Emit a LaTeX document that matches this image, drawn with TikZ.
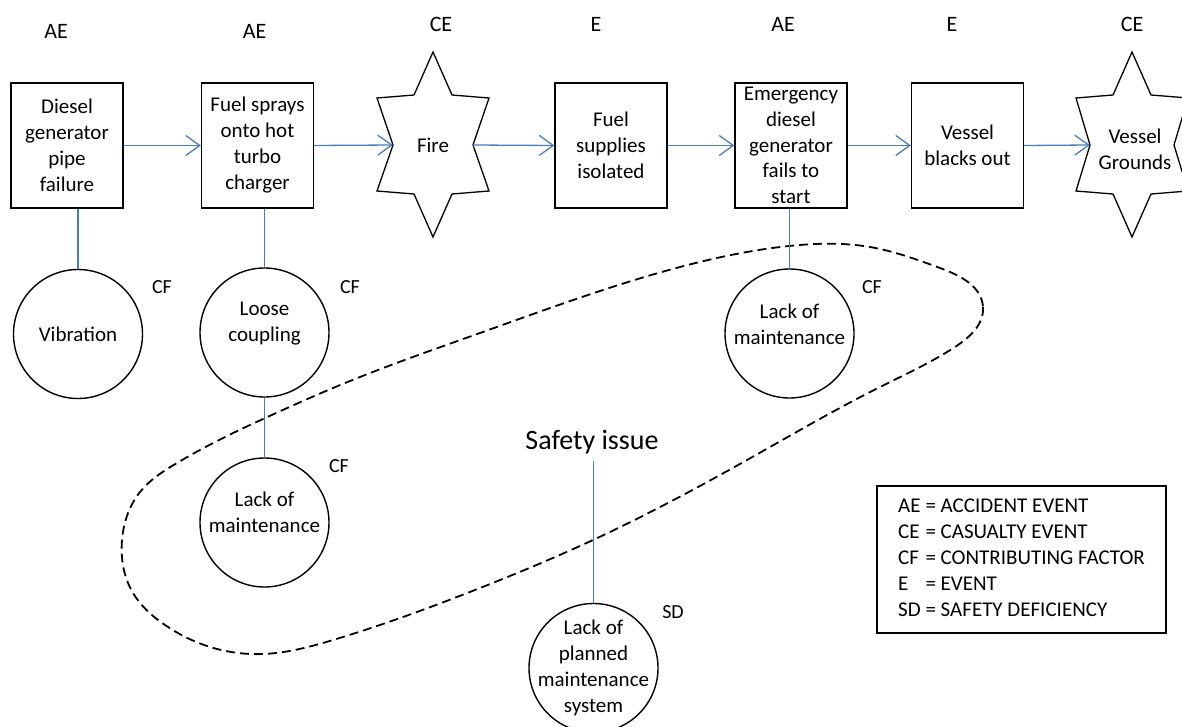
\documentclass[tikz,border=0pt]{standalone}
\usepackage{fontspec}
\setmainfont{Carlito}
\usetikzlibrary{arrows.meta,hobby}
\definecolor{lnblue}{RGB}{74,126,187}
\newcommand\drawstar[2]{%
  \draw[starline] ([shift={(0,-93)}]#1.center) -- ([shift={(-19,-50)}]#1.center)
   -- ([shift={(-56,-47)}]#1.center) -- ([shift={(-#2,0)}]#1.center)
   -- ([shift={(-56,46)}]#1.center) -- ([shift={(-19,49)}]#1.center)
   -- ([shift={(0,92)}]#1.center) -- ([shift={(19,49)}]#1.center)
   -- ([shift={(56,46)}]#1.center) -- ([shift={(#2,0)}]#1.center)
   -- ([shift={(56,-47)}]#1.center) -- ([shift={(19,-50)}]#1.center) -- cycle;}
\begin{document}
\begin{tikzpicture}[x=1pt,y=-1pt,
  every node/.style={font=\fontsize{21}{26}\selectfont},
  evbox/.style={draw, line width=1.3pt, minimum width=112pt, minimum height=125pt, align=center, inner sep=0pt},
  starnode/.style={draw=none, minimum height=185pt, inner sep=0pt, align=center},
  starline/.style={draw, line width=1.3pt, line join=miter},
  circ/.style={draw, circle, line width=1.4pt, minimum size=129pt, inner sep=0pt},
  ctext/.style={align=center, font=\fontsize{21}{26}\selectfont},
  tag/.style={font=\fontsize{20}{24}\selectfont},
  typ/.style={font=\fontsize{22}{26}\selectfont},
  arr/.style={lnblue, line width=1.3pt, -{Straight Barb[length=14pt,width=20pt,line width=1.3pt]}},
  conn/.style={lnblue, line width=1.3pt},
  loop/.style={black, line width=1.8pt, dash pattern=on 9pt off 5pt}
]
\useasboundingbox (0,0) rectangle (1182,727);

% dashed safety-issue loop
\draw[loop, use Hobby shortcut, closed=true]
  (983,307) .. (955,347) .. (880,387) .. (747,460) .. (593,540) .. (480,588)
  .. (333,640) .. (263,654) .. (207,646) .. (165,625) .. (133,593) .. (122,540)
  .. (140,492) .. (177,463) .. (223,438) .. (263,419) .. (350,381) .. (480,333)
  .. (680,267) .. (789,246) .. (870,247) .. (940,268);

% event chain
\node[evbox] (b1) at (67,145.5) {Diesel\\generator\\pipe\\failure};
\node[evbox] (b2) at (257.5,145.5) {Fuel sprays\\onto hot\\turbo\\charger};
\node[starnode, minimum width=80pt] (fire) at (433,145) {Fire};
\node[evbox] (b3) at (611,145.5) {Fuel\\supplies\\isolated};
\node[evbox, font=\fontsize{21}{25.7}\selectfont] (b4) at (791,145.5) {Emergency\\diesel\\generator\\fails to\\start};
\node[evbox] (b5) at (967.5,145.5) {Vessel\\blacks out};
\node[starnode, minimum width=84pt,
      label={[ctext, xshift=3pt, yshift=-4pt]center:Vessel\\Grounds}] (gr) at (1132,145) {};
\drawstar{fire}{40}
\drawstar{gr}{42}

% type labels
\node[typ] (t1) at (56,31) {AE};
\node[typ] (t2) at (254.5,31) {AE};
\node[typ] (t3) at (441,24) {CE};
\node[typ] (t4) at (596,24) {E};
\node[typ] (t5) at (783,24) {AE};
\node[typ] (t6) at (952,24) {E};
\node[typ] (t7) at (1132,24) {CE};

\draw[arr] (b1.east) -- (b2.west);
\draw[arr] (b2.east) -- (fire.west);
\draw[arr] (fire.east) -- (b3.west);
\draw[arr] (b3.east) -- (b4.west);
\draw[arr] (b4.east) -- (b5.west);
\draw[arr] (b5.east) -- (gr.west);

% contributing factors
\node[circ, label={[ctext]center:Vibration}] (vib) at (78,334) {};
\node[circ, label={[ctext, yshift=9pt]center:Loose\\coupling}] (lc) at (264.5,332.5) {};
\node[circ, label={[ctext, yshift=10pt]center:Lack of\\maintenance}] (lom1) at (264.5,522.5) {};
\node[circ, label={[ctext, yshift=9pt]center:Lack of\\maintenance}] (lom2) at (789.5,333.5) {};
\node[circ, label={[ctext]center:Lack of\\planned\\maintenance\\system}] (sd) at (593.5,668) {};

\node[tag] (c1) at (162,287) {CF};
\node[tag] (c2) at (350,287) {CF};
\node[tag] (c3) at (339,466) {CF};
\node[tag] (c4) at (872,287) {CF};
\node[tag] (c5) at (673,612) {SD};

\draw[conn] (vib.north) -- (vib.north |- b1.south);
\draw[conn] (lc.north) -- (lc.north |- b2.south);
\draw[conn] (lom1.north) -- (lc.south);
\draw[conn] (lom2.north) -- (lom2.north |- b4.south);

\node[font=\fontsize{28}{33}\selectfont] (si) at (592,442) {Safety issue};
\draw[conn, shorten >=4pt] (sd.north) -- (sd.north |- si.south);

% legend
\node[draw, line width=1.2pt, minimum width=289pt, minimum height=147pt, inner sep=0pt] (leg) at (1021.5,559.5)
  {\begin{tabular}{@{}l@{\ =\ }l@{}}
   AE & ACCIDENT EVENT\\
   CE & CASUALTY EVENT\\
   CF & CONTRIBUTING FACTOR\\
   E  & EVENT\\
   SD & SAFETY DEFICIENCY
   \end{tabular}};
\end{tikzpicture}
\end{document}
